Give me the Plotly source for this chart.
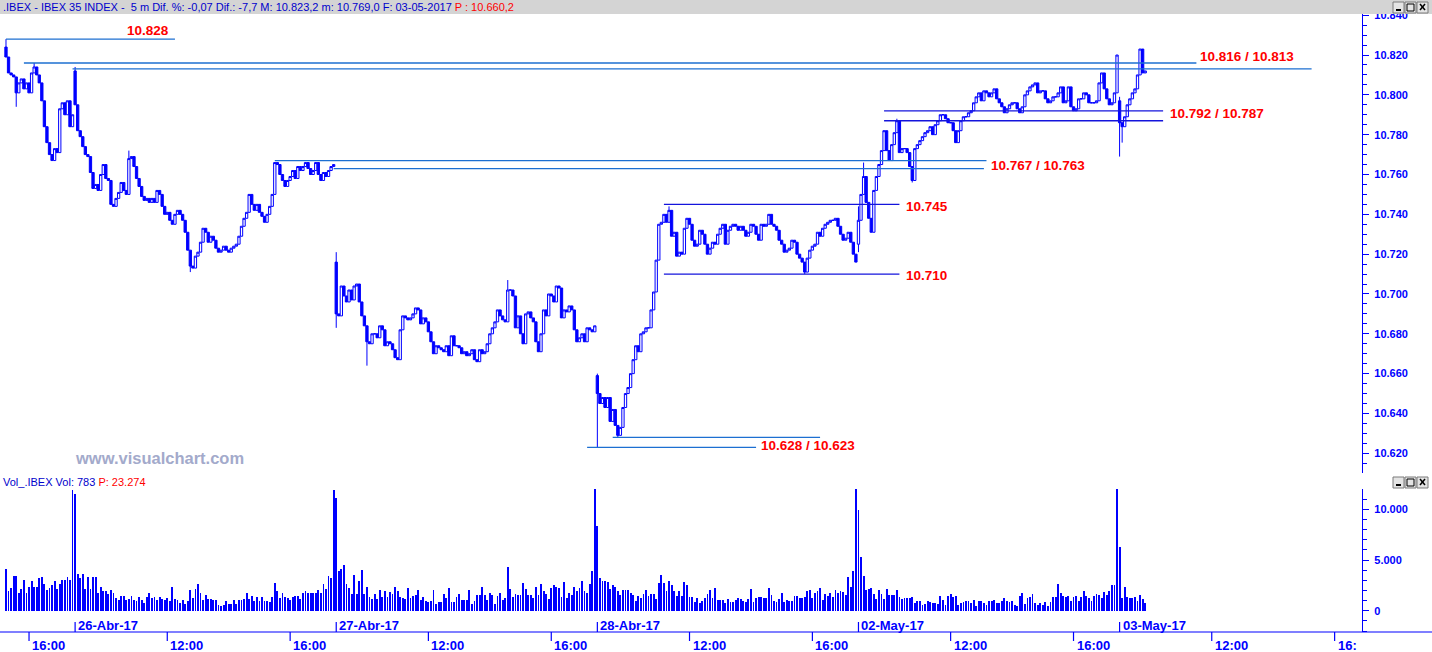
import plotly.graph_objects as go

# ---------------------------------------------------------------- data
day_labels = ["25-Abr-17", "26-Abr-17", "27-Abr-17", "28-Abr-17", "02-May-17", "03-May-17"]
day_first_time = ["15:15", "09:00", "09:00", "09:00", "09:00", "09:00"]
day_open = [10824, 10812, 10716, 10659, 10725, 10797]

close_apr25 = [10819, 10811, 10810, 10809, 10801, 10806, 10808, 10803, 10806, 10801,
               10811, 10814, 10810, 10806, 10797, 10784, 10776, 10770, 10767, 10773,
               10771, 10793, 10796, 10790, 10797, 10784, 10790]
close_apr26 = [10795, 10782, 10779, 10774, 10770, 10769, 10761, 10753, 10755, 10752,
               10760, 10765, 10758, 10757, 10745, 10744, 10748, 10751, 10756, 10752,
               10750, 10768, 10769, 10764, 10758, 10754, 10749, 10747, 10748, 10746,
               10748, 10746, 10752, 10750, 10744, 10740, 10741, 10737, 10735, 10740,
               10742, 10740, 10737, 10731, 10722, 10714, 10713, 10719, 10721, 10726,
               10733, 10731, 10726, 10729, 10727, 10723, 10721, 10722, 10724, 10722,
               10721, 10723, 10724, 10725, 10729, 10734, 10738, 10741, 10750, 10745,
               10742, 10745, 10741, 10739, 10736, 10740, 10744, 10750, 10766, 10765,
               10760, 10757, 10754, 10757, 10759, 10762, 10758, 10764, 10762, 10764,
               10766, 10763, 10760, 10762, 10766, 10760, 10757, 10761, 10759, 10762,
               10764, 10765]
close_apr27 = [10690, 10689, 10704, 10699, 10696, 10702, 10697, 10704, 10705, 10696,
               10689, 10684, 10676, 10675, 10680, 10680, 10678, 10684, 10682, 10674,
               10676, 10675, 10672, 10668, 10667, 10682, 10689, 10688, 10687, 10688,
               10690, 10693, 10692, 10685, 10688, 10686, 10681, 10676, 10670, 10674,
               10673, 10672, 10671, 10674, 10669, 10679, 10674, 10674, 10673, 10670,
               10671, 10669, 10670, 10672, 10667, 10666, 10672, 10670, 10671, 10675,
               10680, 10683, 10686, 10692, 10689, 10687, 10686, 10702, 10702, 10699,
               10683, 10689, 10680, 10675, 10690, 10691, 10688, 10686, 10676, 10671,
               10680, 10692, 10689, 10700, 10699, 10696, 10704, 10703, 10688, 10692,
               10691, 10694, 10692, 10682, 10676, 10678, 10680, 10676, 10683, 10682,
               10681, 10684]
close_apr28 = [10650, 10645, 10648, 10643, 10648, 10636, 10642, 10634, 10629, 10633,
               10643, 10650, 10653, 10660, 10667, 10674, 10671, 10680, 10681, 10683,
               10683, 10692, 10701, 10717, 10735, 10736, 10740, 10736, 10742, 10729,
               10731, 10719, 10721, 10720, 10733, 10738, 10735, 10727, 10724, 10725,
               10732, 10730, 10725, 10720, 10723, 10726, 10725, 10730, 10733, 10735,
               10725, 10732, 10734, 10735, 10734, 10732, 10734, 10732, 10729, 10731,
               10735, 10734, 10730, 10727, 10735, 10734, 10735, 10740, 10735, 10734,
               10732, 10727, 10725, 10721, 10722, 10723, 10727, 10726, 10720, 10718,
               10716, 10711, 10718, 10722, 10724, 10725, 10731, 10729, 10733, 10735,
               10736, 10737, 10737, 10738, 10734, 10730, 10727, 10728, 10731, 10726,
               10720, 10716]
close_may02 = [10737, 10750, 10759, 10746, 10738, 10731, 10752, 10759, 10765, 10772,
               10782, 10772, 10767, 10775, 10781, 10787, 10771, 10773, 10773, 10771,
               10764, 10757, 10773, 10775, 10777, 10779, 10781, 10782, 10784, 10780,
               10785, 10787, 10790, 10790, 10788, 10786, 10786, 10782, 10776, 10782,
               10787, 10789, 10789, 10791, 10792, 10796, 10799, 10801, 10797, 10802,
               10801, 10799, 10801, 10803, 10798, 10796, 10794, 10791, 10793, 10795,
               10796, 10796, 10793, 10791, 10794, 10800, 10802, 10804, 10805, 10806,
               10801, 10802, 10802, 10798, 10796, 10797, 10799, 10799, 10801, 10804,
               10796, 10797, 10804, 10794, 10792, 10793, 10798, 10798, 10801, 10800,
               10796, 10796, 10796, 10797, 10806, 10811, 10803, 10798, 10795, 10796,
               10801, 10820]
close_may03 = [10786, 10784, 10789, 10795, 10798, 10801, 10803, 10810, 10823, 10811, 10812]

vol_apr25 = [4070, 1935, 2230, 3380, 3380, 1740, 2100, 3080, 1770, 2390,
             2980, 2390, 2390, 3210, 3280, 2590, 2070, 2260, 2490, 2980,
             2100, 2620, 3080, 3080, 3310, 3050, 11900]
vol_apr26 = [11450, 3575, 3250, 3575, 2160, 3310, 2100, 3280, 3280, 1800,
             2330, 1935, 1935, 1670, 2000, 1740, 1250, 1020, 1410, 1410,
             1020, 1180, 1410, 1080, 920, 1345, 1020, 750, 1345, 1800,
             1250, 1345, 1020, 1310, 1180, 1020, 1250, 950, 2300, 1115,
             1020, 750, 1020, 690, 920, 2000, 1250, 2160, 2660, 1770,
             1050, 1575, 1150, 1150, 1080, 1020, 590, 460, 590, 920,
             690, 690, 1020, 690, 1080, 1020, 1180, 1800, 1115, 1410,
             920, 1380, 920, 1345, 920, 920, 820, 1345, 2755, 1900,
             1250, 1705, 1310, 1250, 1020, 1345, 1410, 1445, 1180, 1800,
             1935, 1770, 1800, 1770, 1770, 2000, 1770, 2590, 2100, 3380,
             3250, 11900]
vol_apr27 = [11120, 3900, 4070, 4530, 2660, 2230, 1670, 3480, 1610, 2890,
             3970, 1610, 2330, 1345, 1180, 1610, 1180, 2000, 1345, 1970,
             1345, 1870, 1670, 2330, 1935, 1345, 1250, 1115, 2230, 1250,
             1445, 1510, 2000, 1020, 1310, 920, 820, 950, 2000, 620,
             820, 820, 1610, 1250, 2230, 820, 820, 1310, 1610, 1020,
             1020, 1020, 2000, 620, 920, 1510, 1510, 2390, 1510, 1020,
             1800, 1510, 690, 1410, 1705, 1020, 1250, 4300, 2100, 1310,
             1610, 1510, 1510, 2690, 2130, 1510, 1510, 1215, 2300, 1510,
             2590, 1900, 1610, 1115, 2200, 2490, 2300, 2200, 1310, 2790,
             1215, 1705, 1540, 2390, 1900, 2230, 2890, 1900, 1800, 2590,
             3900, 11950]
vol_apr28 = [8300, 3180, 2890, 2890, 2790, 2100, 2490, 2300, 1900, 1510,
             2000, 2000, 2000, 1800, 1510, 920, 1410, 1215, 1610, 2000,
             1410, 1610, 1610, 1115, 2690, 3480, 2690, 1900, 2980, 2490,
             1900, 1410, 1900, 1410, 2790, 2490, 1310, 1310, 820, 1215,
             720, 920, 1215, 1610, 2000, 1280, 2200, 1050, 1020, 1020,
             720, 1115, 820, 820, 1020, 1215, 1115, 920, 820, 1115,
             2100, 820, 1280, 1310, 1310, 1215, 1215, 2200, 1510, 920,
             820, 1115, 1705, 820, 1020, 920, 920, 1410, 1410, 1215,
             1300, 1350, 1910, 2010, 1220, 1710, 1910, 2200, 1050, 1610,
             1410, 1710, 1320, 2010, 1710, 1910, 1810, 1510, 3290, 2300,
             3880, 11980]
vol_may02 = [9900, 5260, 3390, 2010, 2110, 2200, 1610, 1180, 2010, 1610,
             1120, 2110, 1510, 1510, 1510, 2010, 1320, 1120, 1220, 1220,
             1220, 1320, 720, 920, 920, 530, 620, 920, 820, 720,
             720, 620, 1410, 1020, 530, 1410, 1610, 1320, 1410, 530,
             720, 820, 920, 920, 720, 1020, 430, 920, 920, 720,
             530, 920, 920, 1020, 720, 720, 920, 1220, 920, 820,
             920, 530, 430, 1410, 1710, 620, 1220, 1320, 1610, 720,
             530, 720, 530, 820, 430, 820, 1320, 1320, 2600, 1710,
             1410, 1320, 1410, 920, 1320, 1410, 920, 1320, 1910, 1410,
             1220, 920, 1410, 1610, 1510, 1220, 1810, 1510, 1910, 2500,
             2500, 11980]
vol_may03 = [6250, 1220, 2300, 1320, 1220, 1220, 1320, 920, 1510, 1120, 783]

# visible wick extremes (day, bar time) -> value
wick_high = {("25-Abr-17", "15:15"): 10828, ("25-Abr-17", "16:10"): 10816,
             ("26-Abr-17", "09:00"): 10814, ("26-Abr-17", "10:45"): 10772,
             ("27-Abr-17", "09:00"): 10721, ("27-Abr-17", "14:35"): 10707,
             ("28-Abr-17", "09:00"): 10660, ("28-Abr-17", "11:20"): 10744,
             ("02-May-17", "09:00"): 10744, ("02-May-17", "09:10"): 10766,
             ("02-May-17", "10:15"): 10788, ("03-May-17", "09:00"): 10799,
             ("03-May-17", "09:40"): 10823}
wick_low = {("25-Abr-17", "15:35"): 10794, ("26-Abr-17", "12:45"): 10711,
            ("27-Abr-17", "09:00"): 10683, ("27-Abr-17", "10:00"): 10664,
            ("28-Abr-17", "09:00"): 10623, ("28-Abr-17", "09:40"): 10628,
            ("28-Abr-17", "15:45"): 10710, ("02-May-17", "09:00"): 10721,
            ("02-May-17", "10:45"): 10756, ("03-May-17", "09:00"): 10769,
            ("03-May-17", "09:05"): 10776}

# drawn support / resistance levels
level_values = [10828, 10816, 10813, 10792, 10787, 10767, 10763, 10745, 10710, 10628, 10623]
level_start = [("25-Abr-17", "15:15"), ("25-Abr-17", "15:50"), ("25-Abr-17", "17:25"),
               ("02-May-17", "09:50"), ("02-May-17", "09:50"), ("26-Abr-17", "15:30"),
               ("26-Abr-17", "17:25"), ("28-Abr-17", "11:10"), ("28-Abr-17", "11:10"),
               ("28-Abr-17", "09:30"), ("27-Abr-17", "17:10")]
level_end = [("26-Abr-17", "12:15"), ("03-May-17", "11:30"), ("03-May-17", "15:15"),
             ("03-May-17", "10:25"), ("03-May-17", "10:25"), ("02-May-17", "13:10"),
             ("02-May-17", "13:05"), ("02-May-17", "10:20"), ("02-May-17", "10:20"),
             ("28-Abr-17", "16:15"), ("28-Abr-17", "14:10")]
level_dark = [False, False, False, True, True, False, False, True, True, False, False]

# labels: (level indices shown, anchor level, x anchor, xshift, yshift)
label_specs = [([0], 0, "right", -4, 9), ([1, 2], 1, "left", 2, 6), ([3, 4], 3, "left", 5, -3),
               ([5, 6], 5, "left", 3, -5), ([7], 7, "left", 5, -2), ([8], 8, "left", 5, -1),
               ([9, 10], 10, "left", 3, 2)]

time_ticks = [("25-Abr-17", "16:00")] + [(d, t) for d in day_labels[1:] for t in ("12:00", "16:00")]

header_text = ".IBEX - IBEX 35 INDEX -  5 m Dif. %: -0,07 Dif.: -7,7 M: 10.823,2 m: 10.769,0 F: 03-05-2017 "
header_red = "P : 10.660,2"
vol_text = "Vol_.IBEX Vol: 783 "
vol_red = "P: 23.274"

closes = [close_apr25, close_apr26, close_apr27, close_apr28, close_may02, close_may03]
vols = [vol_apr25, vol_apr26, vol_apr27, vol_apr28, vol_may02, vol_may03]

# ---------------------------------------------------------------- layout constants
W, H = 1432, 652
BLUE = "#0000FF"
LIGHT = "#1C6FD1"
DARK = "#1414DC"
RED = "#FF0000"
FONT = "Liberation Sans, Arial, sans-serif"


def px(x):
    return x / W


def py(y):
    return 1 - y / H


def times_from(start, end="17:25"):
    h, m = map(int, start.split(":"))
    eh, em = map(int, end.split(":"))
    t0, t1 = h * 60 + m, eh * 60 + em
    return [f"{t // 60:02d}:{t % 60:02d}" for t in range(t0, t1 + 1, 5)]


# slot grid (the last day is laid out for its full session, as on the time axis)
slot = {}
n = 0
for d, first in zip(day_labels, day_first_time):
    for t in times_from(first):
        slot[(d, t)] = n
        n += 1

X, O, Hh, L, C, V = [], [], [], [], [], []
for d, first, o0, cl, vl in zip(day_labels, day_first_time, day_open, closes, vols):
    ts = times_from(first)[:len(cl)]
    prev = o0
    for t, c, v in zip(ts, cl, vl):
        o = prev
        hi = max(o, c, wick_high.get((d, t), o))
        lo = min(o, c, wick_low.get((d, t), o))
        X.append(slot[(d, t)])
        O.append(o)
        Hh.append(hi)
        L.append(lo)
        C.append(c)
        V.append(v)
        prev = c

fig = go.Figure()
fig.add_trace(go.Candlestick(
    x=X, open=O, high=Hh, low=L, close=C, xaxis="x", yaxis="y",
    increasing=dict(line=dict(color=BLUE, width=1), fillcolor="white"),
    decreasing=dict(line=dict(color=BLUE, width=1), fillcolor=BLUE),
    whiskerwidth=0, hoverinfo="skip", showlegend=False))
fig.add_trace(go.Bar(x=X, y=V, xaxis="x", yaxis="y2", width=0.34,
                     marker=dict(color=BLUE, line=dict(width=0)),
                     hoverinfo="skip", showlegend=False))

shapes = []
annotations = []

# header bar
shapes.append(dict(type="rect", xref="paper", yref="paper", x0=0, x1=1, y0=py(14), y1=1,
                   fillcolor="#D4D4D4", line=dict(width=0), layer="above"))
annotations.append(dict(xref="paper", yref="paper", x=px(1), y=py(7.5), xanchor="left", yanchor="middle",
                        showarrow=False, text=header_text + f"<span style='color:{RED}'>{header_red}</span>",
                        font=dict(family=FONT, size=11, color="#0000CC")))
annotations.append(dict(xref="paper", yref="paper", x=px(1), y=py(481.5), xanchor="left", yanchor="middle",
                        showarrow=False, text=vol_text + f"<span style='color:{RED}'>{vol_red}</span>",
                        font=dict(family=FONT, size=11, color="#0000CC")))


def window_buttons(ytop):
    for k, x0 in enumerate((1393, 1405, 1417)):
        shapes.append(dict(type="rect", xref="paper", yref="paper", x0=px(x0), x1=px(x0 + 11),
                           y0=py(ytop + 11), y1=py(ytop), fillcolor="#E4E4E4",
                           line=dict(color="#7A7A7A", width=1), layer="above"))
        if k == 0:
            shapes.append(dict(type="line", xref="paper", yref="paper", x0=px(x0 + 3), x1=px(x0 + 8),
                               y0=py(ytop + 8), y1=py(ytop + 8), line=dict(color="black", width=2),
                               layer="above"))
        elif k == 1:
            shapes.append(dict(type="rect", xref="paper", yref="paper", x0=px(x0 + 2), x1=px(x0 + 9),
                               y0=py(ytop + 9), y1=py(ytop + 2), line=dict(color="black", width=1),
                               layer="above"))
        else:
            for a, b in ((2, 8), (8, 2)):
                shapes.append(dict(type="line", xref="paper", yref="paper", x0=px(x0 + 3), x1=px(x0 + 8),
                                   y0=py(ytop + a), y1=py(ytop + b), line=dict(color="black", width=1.5),
                                   layer="above"))


window_buttons(2)
window_buttons(477)

# bottom axis line
shapes.append(dict(type="line", xref="paper", yref="paper", x0=0, x1=1, y0=py(632), y1=py(632),
                   line=dict(color=BLUE, width=1.2), layer="above"))

# time ticks and labels
for d, t in time_ticks:
    i = slot[(d, t)]
    shapes.append(dict(type="line", xref="x", yref="paper", x0=i, x1=i, y0=py(632), y1=py(641),
                       line=dict(color=BLUE, width=1.2), layer="above"))
    txt = t if i < 515 else t[:3]
    annotations.append(dict(xref="x", yref="paper", x=i, y=py(645.5), xanchor="left", yanchor="middle",
                            xshift=1, showarrow=False, text=txt,
                            font=dict(family=FONT, size=13, color=BLUE, weight="bold")))
# day ticks and labels
for d in day_labels[1:]:
    i = slot[(d, "09:00")]
    shapes.append(dict(type="line", xref="x", yref="paper", x0=i, x1=i, y0=py(622), y1=py(632),
                       line=dict(color=BLUE, width=1.2), layer="above"))
    annotations.append(dict(xref="x", yref="paper", x=i, y=py(625.5), xanchor="left", yanchor="middle",
                            xshift=1, showarrow=False, text=d,
                            font=dict(family=FONT, size=13, color=BLUE, weight="bold")))

# level lines
for v, s, e, dk in zip(level_values, level_start, level_end, level_dark):
    shapes.append(dict(type="line", xref="x", yref="y", x0=slot[s], x1=slot[e], y0=v, y1=v,
                       line=dict(color=DARK if dk else LIGHT, width=1.3), layer="above"))


def fmt(v):
    return f"{v:,}".replace(",", ".")


for idxs, anchor, xa, xs, ys in label_specs:
    annotations.append(dict(xref="x", yref="y", x=slot[level_end[anchor]], y=level_values[anchor],
                            xanchor=xa, yanchor="middle", xshift=xs, yshift=ys, showarrow=False,
                            text=" / ".join(fmt(level_values[k]) for k in idxs),
                            font=dict(family=FONT, size=13.5, color=RED, weight="bold")))

# watermark
annotations.append(dict(xref="paper", yref="paper", x=px(73), y=py(458), xanchor="left", yanchor="middle",
                        showarrow=False, text="www.visualchart.com",
                        font=dict(family=FONT, size=16.5, color="#A3AACB", weight="bold")))

tickfont = dict(family=FONT, size=11, color=BLUE, weight="bold")
fig.update_layout(
    template="none",
    width=W, height=H, margin=dict(l=0, r=0, t=0, b=0, pad=0), autosize=False,
    paper_bgcolor="white", plot_bgcolor="white",
    separators=",.", showlegend=False, boxgap=0.1, boxgroupgap=0, bargap=0,
    xaxis=dict(domain=[0, px(1362)], range=[-2.34, 529.69], anchor="y2", automargin=False,
               showticklabels=False, ticks="", showgrid=False, zeroline=False, showline=False,
               rangeslider=dict(visible=False), fixedrange=True),
    yaxis=dict(domain=[py(473), py(14)], range=[10610.1, 10840.6], side="right", anchor="x",
               automargin=False,
               tickvals=list(range(10620, 10841, 20)), tickformat=",d",
               ticks="outside", ticklen=6, tickwidth=1, tickcolor=BLUE,
               minor=dict(dtick=5, tick0=10620, ticks="outside", ticklen=4, tickcolor=BLUE),
               showline=True, linecolor=BLUE, linewidth=1.2, showgrid=False, zeroline=False,
               tickfont=tickfont, ticklabelstandoff=3),
    yaxis2=dict(domain=[py(631.5), py(489)], range=[-2040, 11990], side="right", anchor="x",
                automargin=False,
                tickvals=[0, 5000, 10000], tickformat=",d",
                ticks="outside", ticklen=6, tickwidth=1, tickcolor=BLUE,
                minor=dict(dtick=1000, tick0=0, ticks="outside", ticklen=4, tickcolor=BLUE),
                showline=True, linecolor=BLUE, linewidth=1.2, showgrid=False, zeroline=False,
                tickfont=tickfont, ticklabelstandoff=3),
    shapes=shapes, annotations=annotations,
)

fig.write_html("out.html", config={"displayModeBar": False},
               post_script="document.body.style.margin='0';document.body.style.overflow='hidden';")
